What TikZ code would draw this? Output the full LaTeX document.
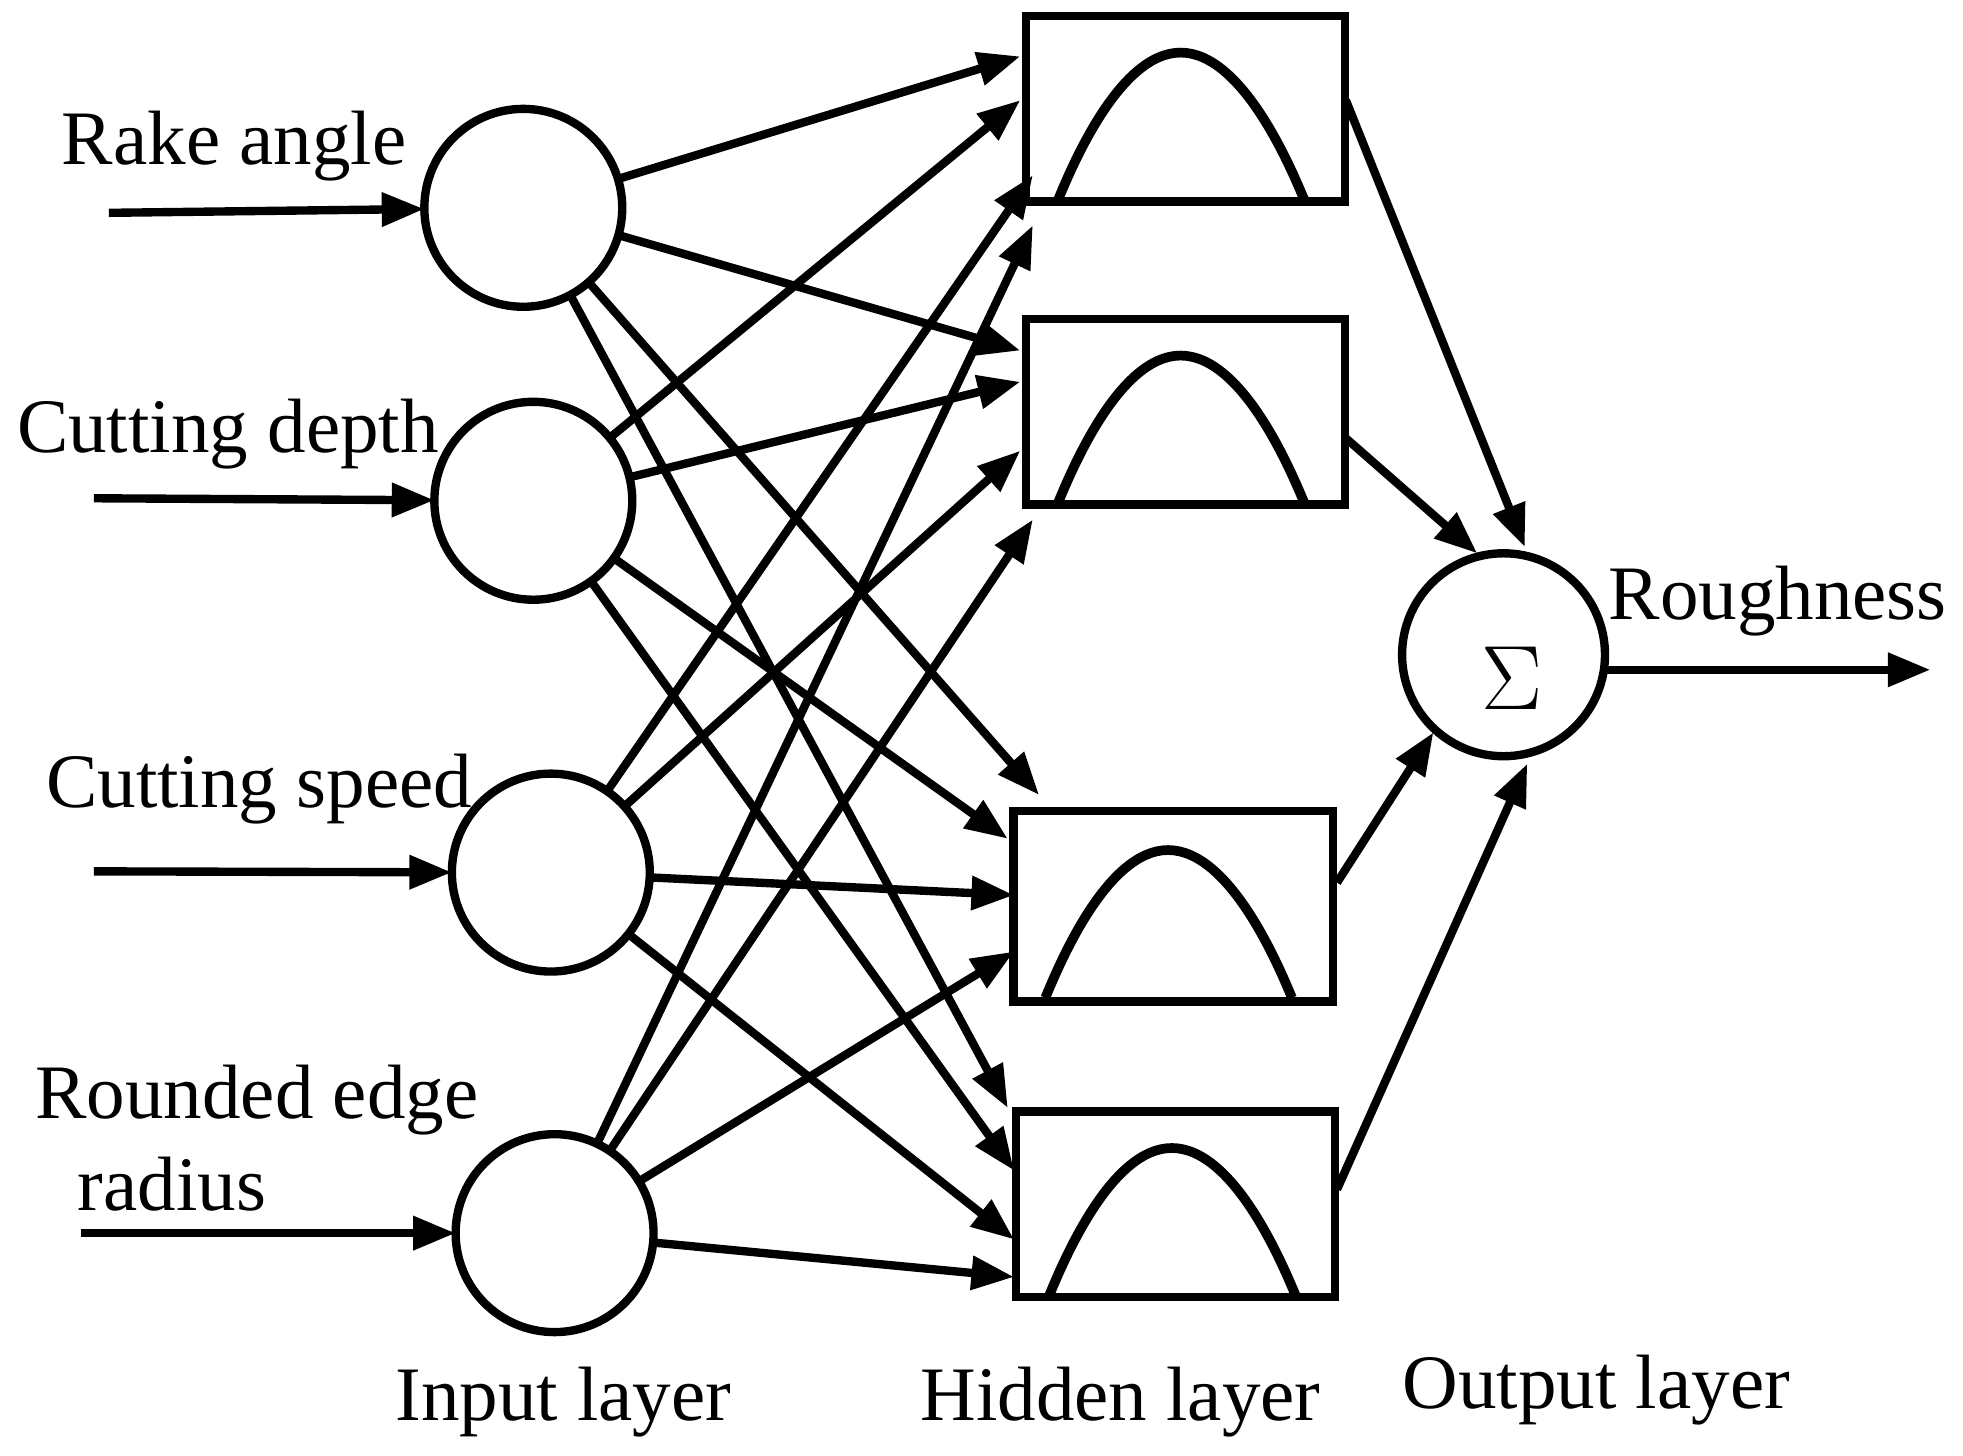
\documentclass[tikz,border=0pt]{standalone}
\usepackage{fontspec}
\setmainfont{Liberation Serif}
\usetikzlibrary{arrows.meta}
\begin{document}
\begin{tikzpicture}[x=0.01cm,y=-0.01cm,line width=1.9pt,
  arr/.style={-{Triangle[length=0.34cm,width=0.26cm]}},
  neuron/.style={circle,draw,minimum size=1.58cm,inner sep=0,outer sep=0},
  hid/.style={draw,minimum width=2.55cm,minimum height=1.48cm,inner sep=0,outer sep=0},
  lab/.style={font=\fontsize{17.5}{21}\selectfont,inner sep=0}]
\useasboundingbox (0,0) rectangle (1568,1163);
\node[neuron] (c1) at (418,166) {};
\node[neuron] (c2) at (426,400) {};
\node[neuron] (c3) at (440,697) {};
\node[neuron] (c4) at (443,985) {};
\node[neuron,minimum size=1.62cm] (o) at (1201,523) {};
\node (sig) at (1208,542) {\fontsize{21}{24}\selectfont$\Sigma$};
\node[hid] (h1) at (947,87) {};
\node[hid] (h2) at (947,329) {};
\node[hid,minimum height=1.52cm] (h3) at (937,724) {};
\node[hid] (h4) at (939,962) {};
\foreach \h/\x/\y in {h1/0/0,h2/0/242,h3/-10/637,h4/-7/875}{
  \draw[line width=2.2pt] (845+\x,160+\y) parabola bend (943+\x,42+\y) (1042+\x,160+\y);}
% inputs
\coordinate (i1) at (87,170); \coordinate (i2) at (75,398);
\coordinate (i3) at (75,696); \coordinate (i4) at (65,985);
\draw[arr] (i1) -- (c1); \draw[arr] (i2) -- (c2);
\draw[arr] (i3) -- (c3); \draw[arr] (i4) -- (c4);
\node[lab] (l1) at (187,117) {Rake angle};
\node[lab] (l2) at (182,347) {Cutting depth};
\node[lab] (l3) at (207,630) {Cutting speed};
\node[lab,align=left,anchor=north west] (l4) at (25,847) {Rounded edge\\\hspace*{0.55em}radius};
% targets
\coordinate (a11) at (815,45); \coordinate (a12) at (815,280); \coordinate (a13) at (830,635); \coordinate (a14) at (805,885);
\coordinate (a21) at (815,80); \coordinate (a22) at (815,305); \coordinate (a23) at (805,670); \coordinate (a24) at (810,935);
\coordinate (a31) at (825,140); \coordinate (a32) at (815,360); \coordinate (a33) at (810,715); \coordinate (a34) at (810,990);
\coordinate (a41) at (825,180); \coordinate (a42) at (825,415); \coordinate (a43) at (810,760); \coordinate (a44) at (810,1020);
\foreach \i in {1,...,4}{\foreach \j in {1,...,4}{\draw[arr] (c\i) -- (a\i\j);}}
% hidden to output
\coordinate (b1) at (1075,80); \coordinate (b2) at (1075,350);
\coordinate (b3) at (1068,705); \coordinate (b4) at (1068,950);
\coordinate (e1) at (1218,437); \coordinate (e2) at (1180,442);
\coordinate (e3) at (1145,585); \coordinate (e4) at (1220,610);
\draw[arr] (b1) -- (e1); \draw[arr] (b2) -- (e2);
\draw[arr] (b3) -- (e3); \draw[arr] (b4) -- (e4);
\coordinate (out) at (1542,535);
\draw[arr] (o.east |- out) -- (out);
\node[lab] (r) at (1420,480) {Roughness};
\node[lab] (t1) at (450,1120) {Input layer};
\node[lab] (t2) at (895,1120) {Hidden layer};
\node[lab] (t3) at (1275,1110) {Output layer};
\end{tikzpicture}
\end{document}
